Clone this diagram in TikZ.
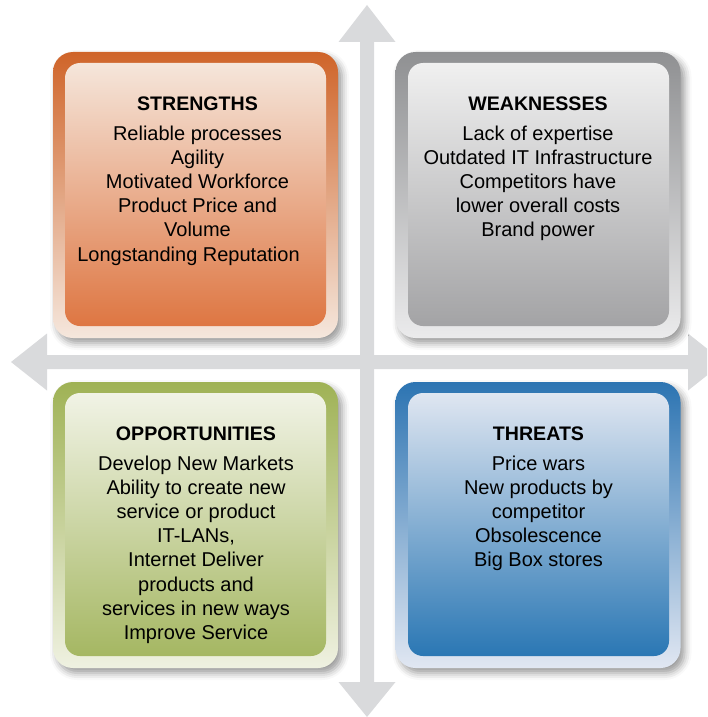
\documentclass[tikz,border=0pt]{standalone}
\usepackage{fontspec}
\setmainfont{Liberation Sans}
\usetikzlibrary{shadows.blur}
\definecolor{arrowgray}{HTML}{D9DADC}
\definecolor{sOutA}{HTML}{CF6429}\definecolor{sOutB}{HTML}{F5E7DD}
\definecolor{sInA}{HTML}{F5E6DB}\definecolor{sInM}{HTML}{E99D6E}\definecolor{sInB}{HTML}{DE7642}
\definecolor{wOutA}{HTML}{8F9092}\definecolor{wOutB}{HTML}{EBEBEC}
\definecolor{wInA}{HTML}{F0F0F0}\definecolor{wInM}{HTML}{C3C3C4}\definecolor{wInB}{HTML}{A3A3A5}
\definecolor{oOutA}{HTML}{9FB255}\definecolor{oOutB}{HTML}{EFF1E1}
\definecolor{oInA}{HTML}{F1F3E6}\definecolor{oInM}{HTML}{C8D29C}\definecolor{oInB}{HTML}{A5B762}
\definecolor{tOutA}{HTML}{2C74B2}\definecolor{tOutB}{HTML}{E1E7F2}
\definecolor{tInA}{HTML}{DFE6F1}\definecolor{tInM}{HTML}{8CAED5}\definecolor{tInB}{HTML}{2A77B4}
\begin{document}
\begin{tikzpicture}[x=1pt,y=-1pt,
  outerbox/.style={rounded corners=20pt, minimum width=285pt, minimum height=286pt, inner sep=0pt,
    shading angle=45,
    blur shadow={shadow xshift=4pt, shadow yshift=-5pt, shadow blur radius=7pt, shadow opacity=40}},
  innerbox/.style={rounded corners=15pt, minimum width=261pt, minimum height=263pt, inner sep=0pt},
  txt/.style={anchor=base, inner sep=0pt, font=\fontsize{20}{24.2}\selectfont},
  arrowshape/.style={fill=arrowgray, draw=none}]
\useasboundingbox (0,0) rectangle (707,717);
\clip (0,0) rectangle (707,717);
% cross arrows
\fill[arrowshape] (367,5) -- (395.5,42) -- (374,42) -- (374,682) -- (395.5,682) -- (367,717)
  -- (338.5,682) -- (360,682) -- (360,42) -- (338.5,42) -- cycle;
\fill[arrowshape] (11,362) -- (47,333.5) -- (47,355) -- (688,355) -- (688,333.5) -- (724,362)
  -- (688,390.5) -- (688,369) -- (47,369) -- (47,390.5) -- cycle;
% boxes
\node[outerbox, top color=sOutA, bottom color=sOutB] (so) at (195.5,195) {};
\node[innerbox, top color=sInA, middle color=sInM, bottom color=sInB] (si) at (195.5,194.5) {};
\node[outerbox, top color=wOutA, bottom color=wOutB] (wo) at (538,195) {};
\node[innerbox, top color=wInA, middle color=wInM, bottom color=wInB] (wi) at (538.5,194.5) {};
\node[outerbox, top color=oOutA, bottom color=oOutB] (oo) at (195.5,525) {};
\node[innerbox, top color=oInA, middle color=oInM, bottom color=oInB] (oi) at (195.5,524.5) {};
\node[outerbox, top color=tOutA, bottom color=tOutB] (to) at (538,525) {};
\node[innerbox, top color=tInA, middle color=tInM, bottom color=tInB] (ti) at (538.5,524.5) {};
% texts
\node[txt] (st) at (197.5,110) {\setlength{\tabcolsep}{0pt}\begin{tabular}[t]{c}
  \textbf{\fontsize{19.6}{24.2}\selectfont STRENGTHS}\\[5.8pt]
  Reliable processes\\ Agility\\ Motivated Workforce\\ Product Price and\\ Volume\\ Longstanding Reputation\hspace*{18pt}
  \end{tabular}};
\node[txt] (wt) at (538,110) {\setlength{\tabcolsep}{0pt}\begin{tabular}[t]{c}
  \textbf{\fontsize{19.6}{24.2}\selectfont WEAKNESSES}\\[5.8pt]
  Lack of expertise\\ Outdated IT Infrastructure\\ Competitors have\\ lower overall costs\\ Brand power
  \end{tabular}};
\node[txt] (ot) at (196,440) {\setlength{\tabcolsep}{0pt}\begin{tabular}[t]{c}
  \textbf{\fontsize{19.6}{24.2}\selectfont OPPORTUNITIES}\\[5.8pt]
  Develop New Markets\\ Ability to create new\\ service or product\\ IT-LANs,\\ Internet Deliver\\ products and\\ services in new ways\\ Improve Service
  \end{tabular}};
\node[txt] (tt) at (538.5,440) {\setlength{\tabcolsep}{0pt}\begin{tabular}[t]{c}
  \textbf{\fontsize{19.6}{24.2}\selectfont THREATS}\\[5.8pt]
  Price wars\\ New products by\\ competitor\\ Obsolescence\\ Big Box stores
  \end{tabular}};
\end{tikzpicture}
\end{document}
